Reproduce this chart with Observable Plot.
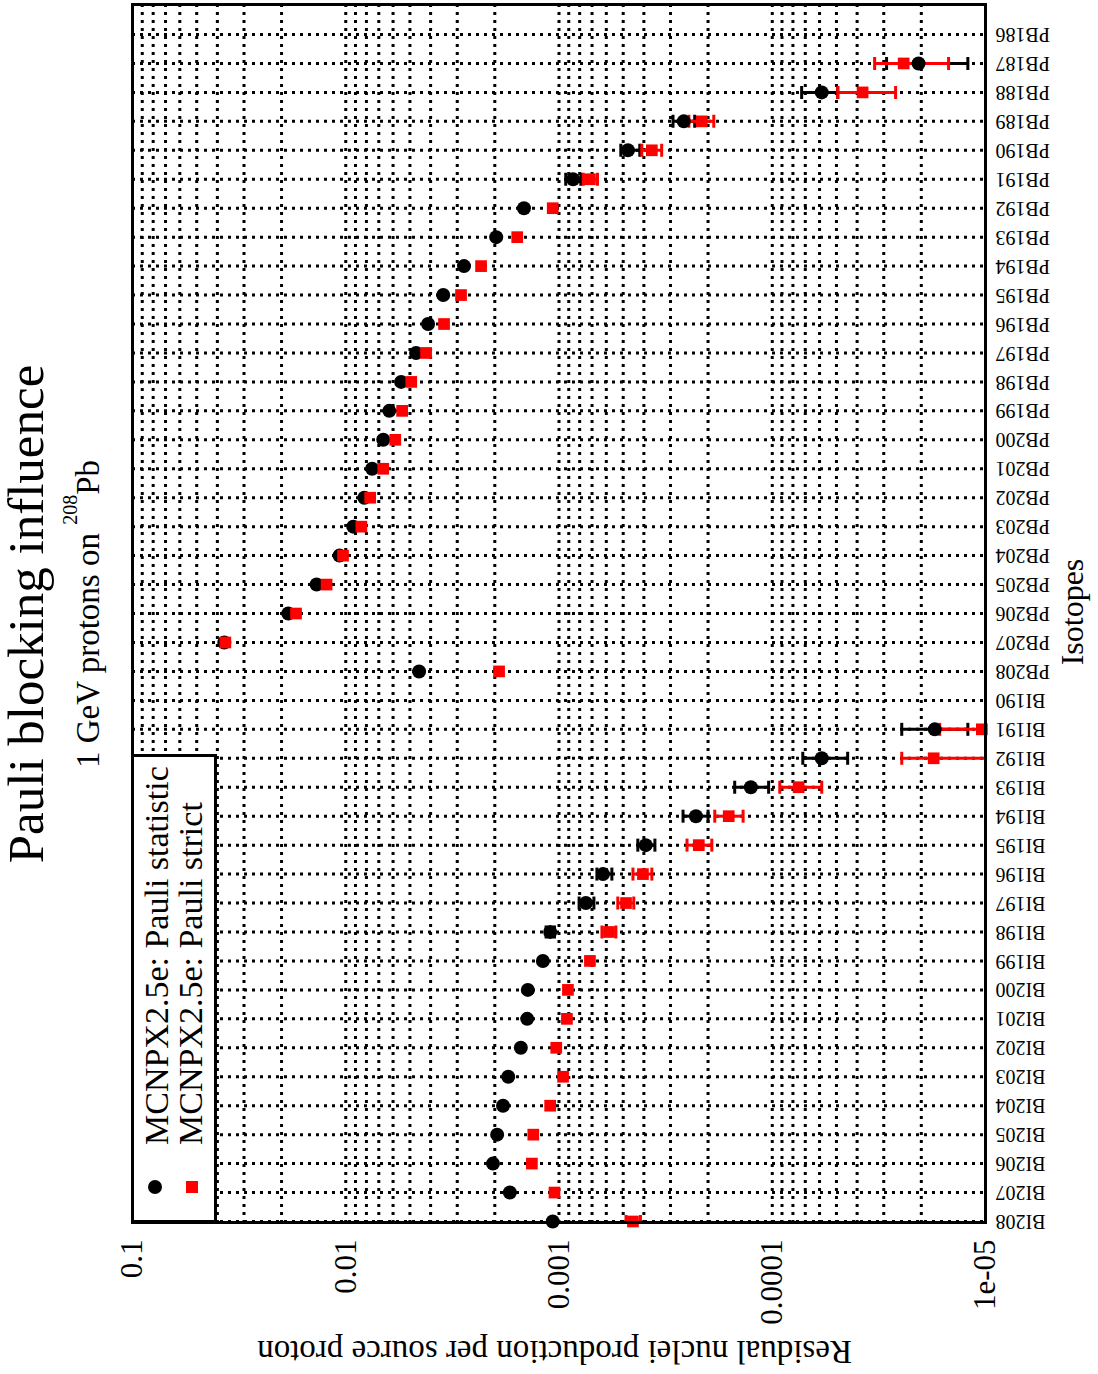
<!DOCTYPE html>
<html><head><meta charset="utf-8">
<script src="https://cdn.jsdelivr.net/npm/d3@7"></script>
<script src="https://cdn.jsdelivr.net/npm/@observablehq/plot@0.6"></script>
<style>
html,body{margin:0;padding:0;background:#fff;overflow:hidden;width:1098px;height:1374px}
#rot{position:absolute;left:0;top:0;width:1374px;height:1098px;transform-origin:0 0;transform:translate(0px,1374px) rotate(-90deg);background:#fff;font-family:"Liberation Serif","Times New Roman",serif;color:#000}
#rot .t{position:absolute;white-space:nowrap;line-height:1}
#legend{position:absolute;left:151px;top:131px;width:469px;height:86px;border:3px solid #000;box-sizing:border-box;background:#fff}
#legend .sym{position:absolute}
#legend .lt{position:absolute;white-space:nowrap;line-height:1;font-size:34px}
</style></head><body>
<div id="rot">
  <div id="chart" style="position:absolute;left:0;top:0"></div>
  <div class="t" style="left:160px;width:1200px;top:1px;font-size:51px;text-align:center">Pauli blocking influence</div>
  <div class="t" style="left:160px;width:1200px;top:72px;font-size:33px;text-align:center">1 GeV protons on <span style="font-size:20px;position:relative;top:-22px">208</span>Pb</div>
  <div class="t" style="left:-327px;top:538px;width:700px;height:33px;font-size:33px;text-align:center;transform:rotate(-90deg)">Residual nuclei production per source proton</div>
  <div class="t" style="left:562px;width:400px;top:1056px;font-size:32px;text-align:center">Isotopes</div>
  <div id="legend">
    <div class="sym" style="left:26px;top:14px;width:14px;height:14px;border-radius:50%;background:#000"></div>
    <div class="sym" style="left:27px;top:52px;width:12px;height:12px;background:#ff0000"></div>
    <div class="lt" style="left:75px;top:6px">MCNPX2.5e: Pauli statistic</div>
    <div class="lt" style="left:75px;top:40px">MCNPX2.5e: Pauli strict</div>
  </div>
</div>
<script>
// Categories, left to right in the (unrotated) chart
const isotopes = ["BI208","BI207","BI206","BI205","BI204","BI203","BI202","BI201","BI200","BI199","BI198","BI197","BI196","BI195","BI194","BI193","BI192","BI191","BI190",
  "PB208","PB207","PB206","PB205","PB204","PB203","PB202","PB201","PB200","PB199","PB198","PB197","PB196","PB195","PB194","PB193","PB192","PB191","PB190","PB189","PB188","PB187","PB186"];

// MCNPX2.5e: Pauli statistic (black circles)
const statValues = [1.07e-3,1.70e-3,2.04e-3,1.95e-3,1.83e-3,1.73e-3,1.51e-3,1.41e-3,1.40e-3,1.19e-3,1.10e-3,7.48e-4,6.22e-4,3.92e-4,2.28e-4,1.26e-4,5.86e-5,1.73e-5,null,
  4.53e-3,3.71e-2,1.86e-2,1.37e-2,1.07e-2,9.22e-3,8.18e-3,7.52e-3,6.67e-3,6.25e-3,5.50e-3,4.68e-3,4.11e-3,3.49e-3,2.79e-3,1.97e-3,1.46e-3,8.59e-4,4.75e-4,2.60e-4,5.86e-5,2.06e-5,null];

// MCNPX2.5e: Pauli strict (red squares)
const strictValues = [4.50e-4,1.05e-3,1.34e-3,1.32e-3,1.10e-3,9.57e-4,1.03e-3,9.18e-4,9.08e-4,7.16e-4,5.83e-4,4.85e-4,4.04e-4,2.21e-4,1.60e-4,7.52e-5,1.75e-5,1.04e-5,null,
  1.91e-3,3.67e-2,1.71e-2,1.23e-2,1.03e-2,8.45e-3,7.68e-3,6.67e-3,5.86e-3,5.44e-3,4.93e-3,4.20e-3,3.46e-3,2.88e-3,2.32e-3,1.57e-3,1.07e-3,7.16e-4,3.67e-4,2.14e-4,3.77e-5,2.42e-5,null];

// Error bars (visible ones)
const statErrIsotopes = ["BI198","BI197","BI196","BI195","BI194","BI193","BI192","BI191","PB191","PB190","PB189","PB188","PB187"];
const statErrLow  = [1.05e-3,6.86e-4,5.65e-4,3.55e-4,2.00e-4,1.04e-4,4.43e-5,1.21e-5,7.9e-4,4.18e-4,2.31e-4,4.93e-5,1.21e-5];
const statErrHigh = [1.15e-3,8.05e-4,6.64e-4,4.27e-4,2.62e-4,1.50e-4,7.19e-5,2.47e-5,9.3e-4,5.13e-4,2.92e-4,7.28e-5,2.91e-5];

const strictErrIsotopes = ["BI208","BI198","BI197","BI196","BI195","BI194","BI193","BI192","BI191","PB191","PB190","PB189","PB188","PB187"];
const strictErrLow  = [4.15e-4,5.41e-4,4.46e-4,3.67e-4,1.92e-4,1.37e-4,5.86e-5,8.0e-6,5.0e-6,6.6e-4,3.30e-4,1.88e-4,2.64e-5,1.49e-5];
const strictErrHigh = [4.85e-4,6.29e-4,5.30e-4,4.50e-4,2.51e-4,1.86e-4,9.22e-5,2.47e-5,1.64e-5,7.7e-4,4.09e-4,2.46e-4,4.93e-5,3.31e-5];

// Value axis ticks
const yTicks = [1e-5, 1e-4, 1e-3, 1e-2, 0.1];
const yTickLabels = ["1e-05", "0.0001", "0.001", "0.01", "0.1"];

const yLabelMap = new Map(yTicks.map((t, i) => [t, yTickLabels[i]]));
const yMinor = [];
for (const dec of [1e-5, 1e-4, 1e-3, 1e-2]) for (const m of [1,2,3,4,5,6,7,8,9]) yMinor.push(+(m * dec).toPrecision(3));
yMinor.push(0.1);

const stat = isotopes.map((iso, i) => ({iso, v: statValues[i]})).filter(d => d.v != null);
const strict = isotopes.map((iso, i) => ({iso, v: strictValues[i]})).filter(d => d.v != null);
const statErr = statErrIsotopes.map((iso, i) => ({iso, lo: statErrLow[i], hi: statErrHigh[i]}));
const strictErr = strictErrIsotopes.map((iso, i) => ({iso, lo: strictErrLow[i], hi: strictErrHigh[i]}));
const caps = (errs) => errs.flatMap(d => [{iso: d.iso, y: d.lo}, {iso: d.iso, y: d.hi}]);

const capSymbol = {draw(ctx, size) { const w = Math.sqrt(size / Math.PI); ctx.moveTo(-w, 0); ctx.lineTo(w, 0); }};

const dotted = {stroke: "black", strokeOpacity: 1, strokeWidth: 3, strokeDasharray: "3,5"};

const chart = Plot.plot({
  width: 1374, height: 1098,
  marginLeft: 151, marginRight: 5, marginTop: 132, marginBottom: 113,
  style: {fontFamily: "'Liberation Serif', 'Times New Roman', serif", background: "transparent", color: "black"},
  x: {type: "point", domain: isotopes, range: [152, 1339], padding: 0, align: 0.5},
  y: {type: "log", domain: [1e-5, 0.1]},
  marks: [
    Plot.gridX(isotopes, dotted),
    Plot.gridY(yMinor, dotted),
    Plot.ruleX(statErr, {x: "iso", y1: "lo", y2: "hi", stroke: "black", strokeWidth: 3, clip: true}),
    Plot.dot(caps(statErr), {x: "iso", y: "y", symbol: capSymbol, r: 6.5, stroke: "black", strokeWidth: 3, fill: "none", clip: true}),
    Plot.ruleX(strictErr, {x: "iso", y1: "lo", y2: "hi", stroke: "#ff0000", strokeWidth: 3, clip: true}),
    Plot.dot(caps(strictErr), {x: "iso", y: "y", symbol: capSymbol, r: 6.5, stroke: "#ff0000", strokeWidth: 3, fill: "none", clip: true}),
    Plot.dot(stat, {x: "iso", y: "v", r: 7, fill: "black", stroke: "none"}),
    Plot.dot(strict, {x: "iso", y: "v", r: 6.6, symbol: "square", fill: "#ff0000", stroke: "none"}),
    Plot.frame({stroke: "black", strokeWidth: 3}),
    Plot.axisY({anchor: "left", ticks: yTicks, tickFormat: d => yLabelMap.get(d), tickSize: 0, tickPadding: 17, fontSize: 31, label: null}),
    Plot.axisX({anchor: "bottom", ticks: isotopes, tickSize: 0, tickPadding: 10, tickRotate: -90, fontSize: 20, label: null})
  ]
});
document.getElementById("chart").appendChild(chart);
</script>
</body></html>
